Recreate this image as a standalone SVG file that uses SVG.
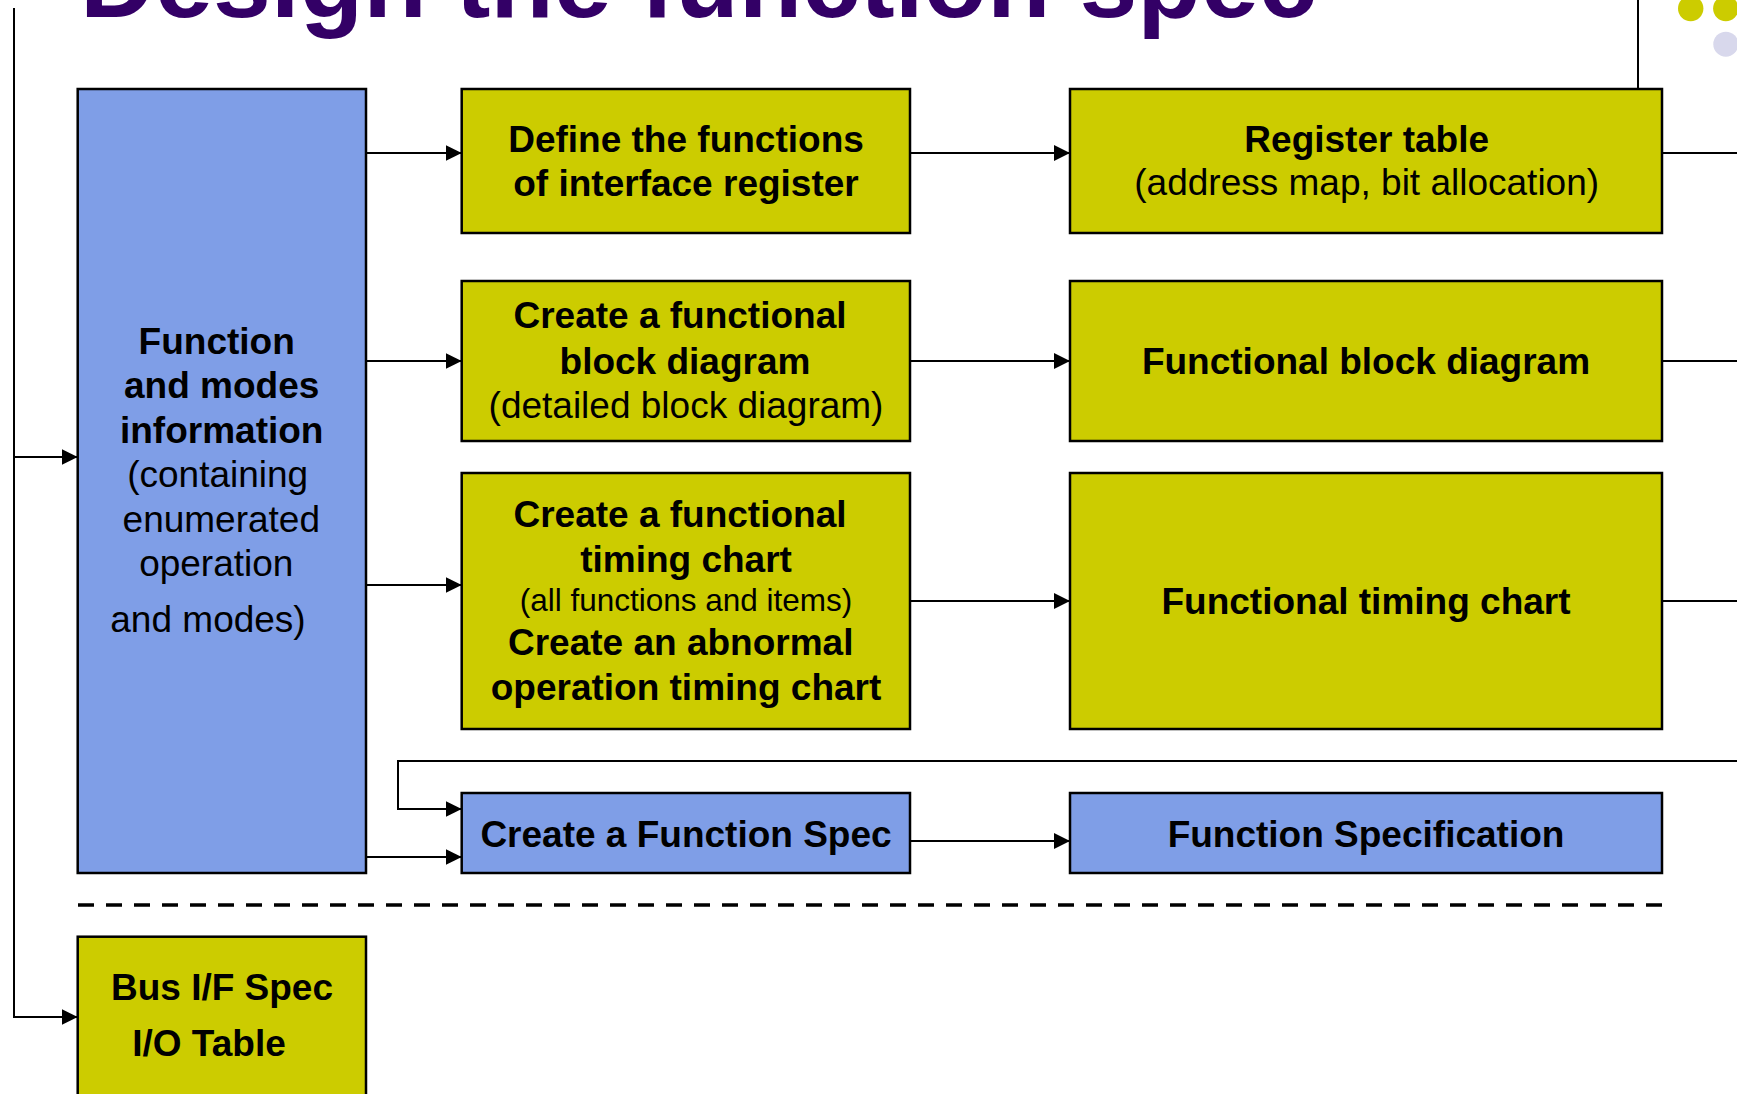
<svg xmlns="http://www.w3.org/2000/svg" width="1737" height="1094" viewBox="0 0 1737 1094">
  <style>
    text { font-family: "Liberation Sans", Arial, sans-serif; fill: #000; }
    .b { font-weight: bold; font-size: 37px; }
    .r { font-size: 37px; }
    .s { font-size: 31.5px; }
    .title { font-weight: bold; font-size: 104px; fill: #330066; }
    .yel { fill: #cccc00; stroke: #000; stroke-width: 2.5; }
    .blu { fill: #7f9ee7; stroke: #000; stroke-width: 2.5; }
    .ln { fill: none; stroke: #000; stroke-width: 2; }
    .arr { fill: none; stroke: #000; stroke-width: 2; marker-end: url(#ah); }
  </style>
  <defs>
    <marker id="ah" markerUnits="userSpaceOnUse" markerWidth="16" markerHeight="16" refX="16" refY="8" orient="auto">
      <path d="M0,0 L16,8 L0,16 z" fill="#000"/>
    </marker>
  </defs>
  <rect width="1737" height="1094" fill="#fff"/>

  <!-- heading and corner dots -->
  <text class="title" x="80" y="17">Design the function spec</text>
  <circle cx="1690.7" cy="8.5" r="12.7" fill="#cccc00"/>
  <circle cx="1725.8" cy="8.5" r="12.7" fill="#cccc00"/>
  <circle cx="1725.8" cy="44.2" r="12.5" fill="#d8d8ec"/>

  <!-- connectors -->
  <g id="connectors">
    <path class="arr" d="M14,8 V1017 H77.7"/>
    <path class="arr" d="M14,457 H77.7"/>
    <path class="arr" d="M366,153 H461.7"/>
    <path class="arr" d="M366,361 H461.7"/>
    <path class="arr" d="M366,585 H461.7"/>
    <path class="arr" d="M366,857 H461.7"/>
    <path class="arr" d="M910,153 H1070"/>
    <path class="arr" d="M910,361 H1070"/>
    <path class="arr" d="M910,601 H1070"/>
    <path class="arr" d="M910,841 H1070"/>
    <path class="ln" d="M1662,153 H1737"/>
    <path class="ln" d="M1662,361 H1737"/>
    <path class="ln" d="M1662,601 H1737"/>
    <path class="arr" d="M1737,761 H398 V809 H461.7"/>
    <path class="ln" d="M1638,0 V89"/>
    <path d="M78,905 H1662" fill="none" stroke="#000" stroke-width="3.5" stroke-dasharray="16 12"/>
  </g>

  <!-- source information -->
  <g id="node-function-modes">
    <rect class="blu" x="77.7" y="89" width="288.3" height="784"/>
    <text class="b" x="216.7" y="353.5" text-anchor="middle">Function</text>
    <text class="b" x="221.7" y="398" text-anchor="middle">and modes</text>
    <text class="b" x="221.7" y="442.5" text-anchor="middle">information</text>
    <text class="r" x="217.7" y="487" text-anchor="middle">(containing</text>
    <text class="r" x="221.3" y="531.5" text-anchor="middle">enumerated</text>
    <text class="r" x="216.3" y="576" text-anchor="middle">operation</text>
    <text class="r" x="208" y="631.5" text-anchor="middle">and modes)</text>
  </g>

  <g id="node-bus-if">
    <rect class="yel" x="77.7" y="936.7" width="288.3" height="170"/>
    <text class="b" x="222" y="1000" text-anchor="middle">Bus I/F Spec</text>
    <text class="b" x="209" y="1055.7" text-anchor="middle">I/O Table</text>
  </g>

  <!-- tasks -->
  <g id="node-define-register">
    <rect class="yel" x="461.7" y="89" width="448.3" height="144"/>
    <text class="b" x="686" y="152" text-anchor="middle">Define the functions</text>
    <text class="b" x="686" y="195.5" text-anchor="middle">of interface register</text>
  </g>

  <g id="node-create-block">
    <rect class="yel" x="461.7" y="281" width="448.3" height="160"/>
    <text class="b" x="680" y="327.7" text-anchor="middle">Create a functional</text>
    <text class="b" x="685" y="373.7" text-anchor="middle">block diagram</text>
    <text class="r" x="686" y="417.7" text-anchor="middle">(detailed block diagram)</text>
  </g>

  <g id="node-create-timing">
    <rect class="yel" x="461.7" y="473" width="448.3" height="256"/>
    <text class="b" x="680" y="527.3" text-anchor="middle">Create a functional</text>
    <text class="b" x="686" y="572.3" text-anchor="middle">timing chart</text>
    <text class="s" x="686" y="611.3" text-anchor="middle">(all functions and items)</text>
    <text class="b" x="680.7" y="655.3" text-anchor="middle">Create an abnormal</text>
    <text class="b" x="686" y="699.5" text-anchor="middle">operation timing chart</text>
  </g>

  <g id="node-create-spec">
    <rect class="blu" x="461.7" y="793" width="448.3" height="80"/>
    <text class="b" x="686" y="846.7" text-anchor="middle">Create a Function Spec</text>
  </g>

  <!-- deliverables -->
  <g id="node-register-table">
    <rect class="yel" x="1070" y="89" width="592" height="144"/>
    <text class="b" x="1366.7" y="151.7" text-anchor="middle">Register table</text>
    <text class="r" x="1366.7" y="195" text-anchor="middle">(address map, bit allocation)</text>
  </g>

  <g id="node-block-diagram">
    <rect class="yel" x="1070" y="281" width="592" height="160"/>
    <text class="b" x="1366" y="374" text-anchor="middle">Functional block diagram</text>
  </g>

  <g id="node-timing-chart">
    <rect class="yel" x="1070" y="473" width="592" height="256"/>
    <text class="b" x="1366" y="614" text-anchor="middle">Functional timing chart</text>
  </g>

  <g id="node-function-specification">
    <rect class="blu" x="1070" y="793" width="592" height="80"/>
    <text class="b" x="1366" y="846.7" text-anchor="middle">Function Specification</text>
  </g>
</svg>
